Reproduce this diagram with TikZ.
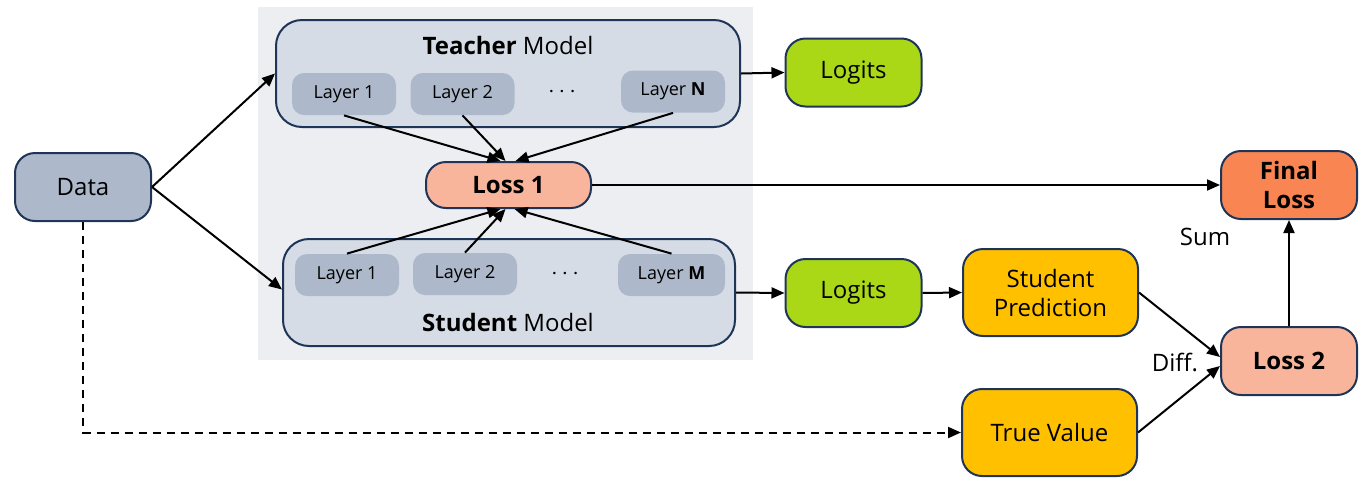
\documentclass[tikz,border=0pt]{standalone}
\usepackage{fontspec}
\setmainfont{Open Sans}
\usetikzlibrary{arrows.meta}
\definecolor{bggray}{HTML}{EDEEF2}
\definecolor{modelgray}{HTML}{D6DCE5}
\definecolor{layergray}{HTML}{ADB9CA}
\definecolor{navy}{HTML}{1F3558}
\definecolor{lgreen}{HTML}{AAD817}
\definecolor{amber}{HTML}{FFC000}
\definecolor{salmon}{HTML}{F9B59C}
\definecolor{tangerine}{HTML}{F98652}
\tikzset{
	box/.style={draw=navy, line width=1pt, rounded corners=10pt, align=center, inner sep=0pt,
		minimum width=68pt, minimum height=34pt, font=\fontsize{12}{14.5}\selectfont},
	model/.style={draw=navy, line width=1pt, rounded corners=13pt, fill=modelgray, inner sep=0pt},
	layer/.style={fill=layergray, rounded corners=6pt, inner sep=0pt, minimum width=52pt,
		minimum height=21pt, font=\fontsize{9}{11}\selectfont},
	flow/.style={line width=1pt, -{Triangle[length=6.5pt,width=5.5pt]}},
	lbl/.style={inner sep=0pt, font=\fontsize{12}{14.5}\selectfont}
}
\begin{document}
\begin{tikzpicture}[x=0.5pt,y=-0.5pt]
	\useasboundingbox (0,0) rectangle (1367,489);
	\fill[bggray] (258,7) rectangle (753,360);
	% teacher
	\node (teacher) at (508,73.5) [model, minimum width=232pt, minimum height=53.5pt] {};
	\node (tname) at (508,45) [lbl] {\textbf{Teacher} Model};
	\node (tl1) at (344,94) [layer] {Layer 1};
	\node (tl2) at (462.5,94) [layer] {Layer 2};
	\node (tdots) at (562,92) [lbl] {$\cdots$};
	\node (tln) at (673,91.5) [layer] {Layer \textbf{N}};
	% student
	\node (student) at (509,292.5) [model, minimum width=226pt, minimum height=53.5pt] {};
	\node (sname) at (508,322) [lbl] {\textbf{Student} Model};
	\node (sl1) at (347,275) [layer] {Layer 1};
	\node (sl2) at (465,274) [layer] {Layer 2};
	\node (sdots) at (565,274) [lbl] {$\cdots$};
	\node (slm) at (671.5,275) [layer, minimum width=53.5pt] {Layer \textbf{M}};
	% boxes
	\node (data) at (83,187) [box, fill=layergray] {Data};
	\node (loss1) at (508.5,185) [box, fill=salmon, minimum width=82.5pt, minimum height=23pt] {\textbf{Loss 1}};
	\node (tlogits) at (853.5,72.5) [box, fill=lgreen] {Logits};
	\node (slogits) at (853.5,293) [box, fill=lgreen] {Logits};
	\node (pred) at (1050.5,292.5) [box, fill=amber, minimum width=87.5pt, minimum height=43.5pt] {Student\\Prediction};
	\node (truev) at (1049.5,432.5) [box, fill=amber, minimum width=87.5pt, minimum height=43.5pt] {True Value};
	\node (final) at (1289,185) [box, fill=tangerine] {\textbf{Final}\\\textbf{Loss}};
	\node (loss2) at (1289,361) [box, fill=salmon] {\textbf{Loss 2}};
	\node (sum) at (1205,237) [lbl] {Sum};
	\node (diff) at (1175,362) [lbl] {Diff.};
	% connectors
	\draw[flow] (data.east) -- (teacher.west);
	\draw[flow] (data.east) -- ([yshift=1.5pt]student.west);
	\draw[flow] (teacher.east) -- (tlogits.west);
	\draw[flow] (student.east) -- (slogits.west);
	\draw[flow] (tl1.south) -- ([xshift=-4pt]loss1.north);
	\draw[flow] (tl2.south) -- ([xshift=-1.5pt]loss1.north);
	\draw[flow] (tln.south) -- ([xshift=3.5pt]loss1.north);
	\draw[flow] (sl1.north) -- ([xshift=-4pt]loss1.south);
	\draw[flow] (sl2.north) -- ([xshift=-1.5pt]loss1.south);
	\draw[flow] (slm.north) -- ([xshift=3pt]loss1.south);
	\draw[flow] (loss1.east) -- (final.west);
	\draw[flow] (slogits.east) -- (pred.west);
	\draw[flow] (pred.east) -- ([yshift=2pt]loss2.west);
	\draw[flow] (truev.east) -- ([yshift=-2.5pt]loss2.west);
	\draw[flow] (loss2.north) -- (final.south);
	\draw[flow, dash pattern=on 4pt off 3pt] (data.south) |- (truev.west);
\end{tikzpicture}
\end{document}
